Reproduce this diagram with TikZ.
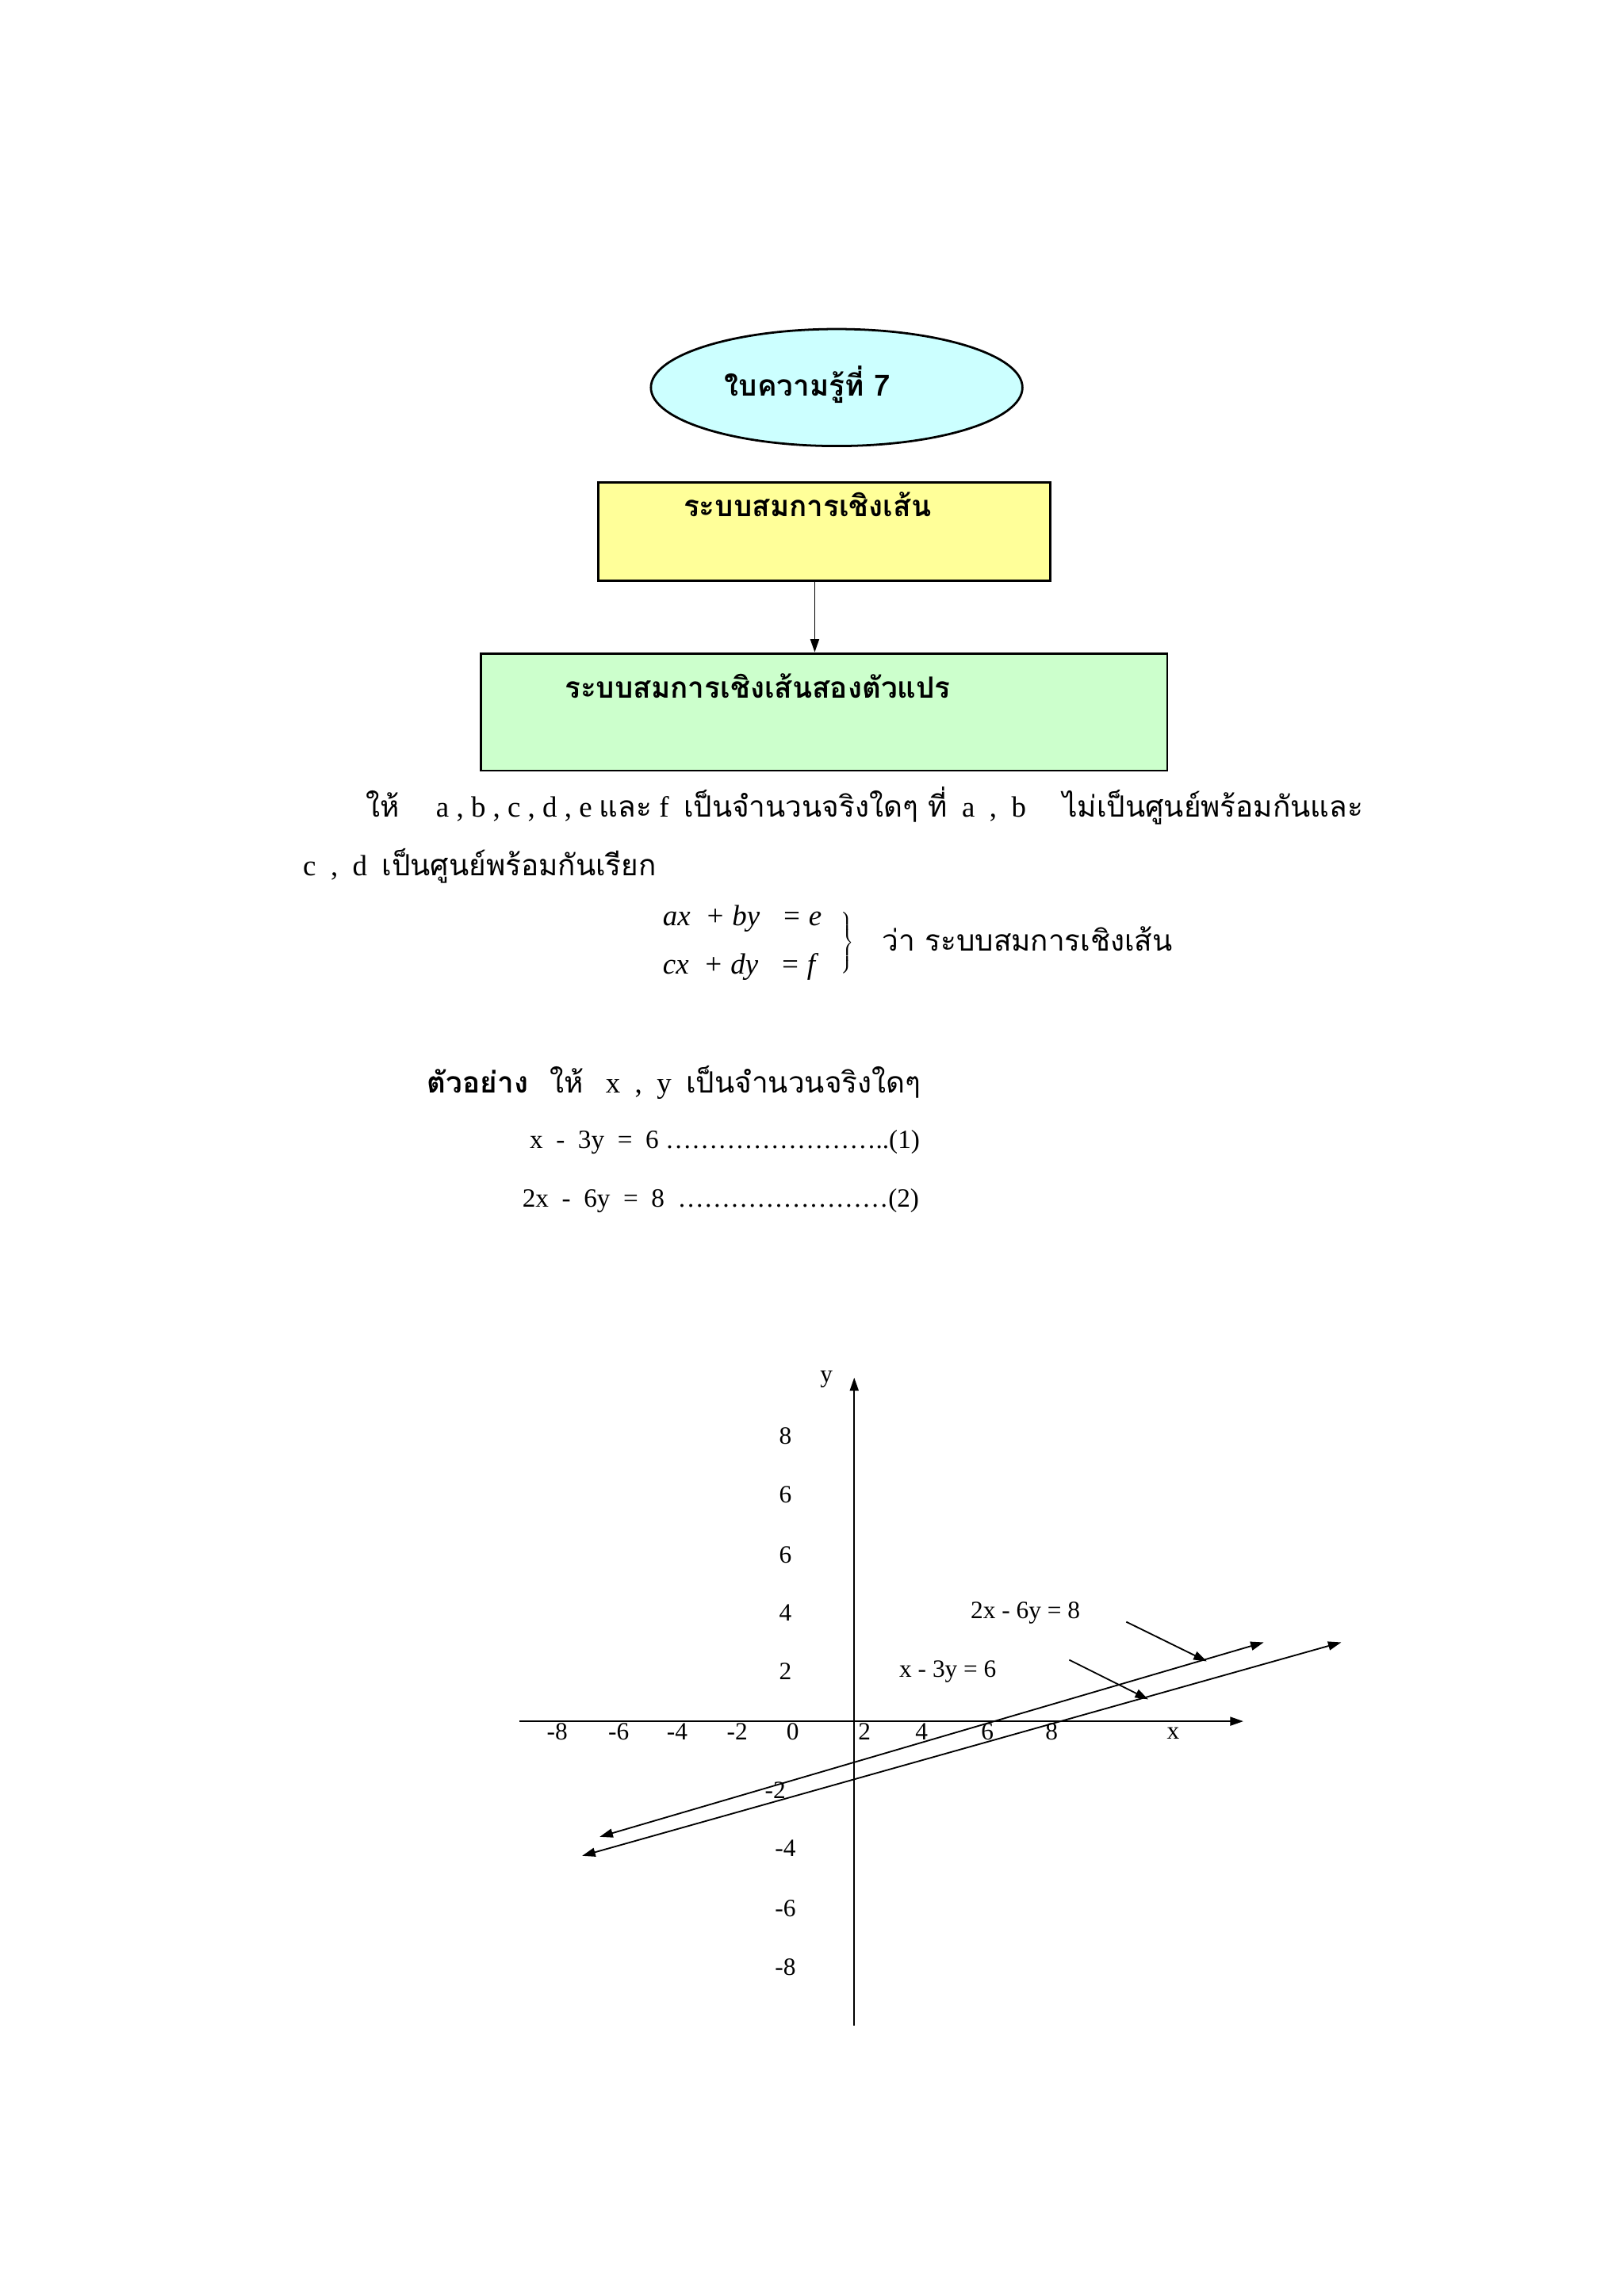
\documentclass[tikz,border=0pt]{standalone}
\usepackage{fontspec}
\setmainfont{Liberation Serif}
\newfontfamily\thai[Script=Thai]{Loma}
\usetikzlibrary{shapes.geometric,arrows.meta}
\definecolor{cyanf}{HTML}{CCFFFF}
\definecolor{yelf}{HTML}{FFFF99}
\definecolor{grnf}{HTML}{CCFFCC}
\begin{document}
\begin{tikzpicture}[x=1pt,y=-1pt,
  txt/.style={anchor=west,inner sep=0pt,font=\fontsize{20}{24}\selectfont},
  num/.style={inner sep=0pt,font=\fontsize{17}{20}\selectfont},
  arr/.style={-{Triangle[length=9pt,width=6pt]},line width=1pt}]
\useasboundingbox (0,0) rectangle (1110,1570);
\node[ellipse,draw,line width=1.5pt,fill=cyanf,minimum width=254,minimum height=80] (e) at (572,265) {};
\node[font=\fontsize{20}{24}\selectfont\thai\bfseries] at (552,263) {ใบความรู้ที่ 7};
\node[draw,line width=1.5pt,fill=yelf,minimum width=309,minimum height=67] (y) at (563.5,363.5) {};
\node[font=\fontsize{20}{24}\selectfont\thai\bfseries] at (552,345) {ระบบสมการเชิงเส้น};
\node[draw,line width=1.5pt,fill=grnf,minimum width=469,minimum height=80] (g) at (563.5,487) {};
\node[font=\fontsize{20}{24}\selectfont\thai\bfseries] at (518,469) {ระบบสมการเชิงเส้นสองตัวแปร};
\draw[arr] (557,397) -- (557,446);
\node[txt] (t1) at (250,551) {{\thai ให้}\quad\ a , b , c , d , e {\thai และ} f\ \ {\thai เป็นจำนวนจริงใดๆ ที่}\ \ a\ \ ,\ \ b\quad\ {\thai ไม่เป็นศูนย์พร้อมกันและ}};
\node[txt] (t2) at (207,592) {c\ \ ,\ \ d\ \ {\thai เป็นศูนย์พร้อมกันเรียก}};
\node[txt] (q1) at (453,628) {\itshape ax\ \ + by\ \ \ = e};
\node[txt] (q2) at (453,661) {\itshape cx\ \ + dy\ \ \ = f};
\node[inner sep=0pt,font=\fontsize{20}{24}\selectfont] (br) at (579,644) {$\left.\vphantom{\rule{0pt}{28pt}}\right\}$};
\node[txt] (t3) at (603,642) {\thai ว่า ระบบสมการเชิงเส้น};
\node[txt] (t4) at (292,740) {{\thai\bfseries ตัวอย่าง}\ \ \ {\thai ให้}\ \ \ x\ \ ,\ \ y\ \ {\thai เป็นจำนวนจริงใดๆ}};
\node[txt,font=\fontsize{18}{22}\selectfont] (t5) at (362,781) {x\ \ -\ \ 3y\ \ =\ \ 6 ……………………..(1)};
\node[txt,font=\fontsize{18}{22}\selectfont] (t6) at (357,821) {2x\ \ -\ \ 6y\ \ =\ \ 8\ \ ……………………(2)};
% graph
\coordinate (xa0) at (355,1177); \coordinate (xa1) at (850,1177);
\coordinate (ya0) at (584,1385); \coordinate (ya1) at (584,942);
\draw[arr] (xa0) -- (xa1);
\draw[arr] (ya0) -- (ya1);
\node[num] at (565,943) {y};
\node[num] at (802,1185) {x};
\foreach \v/\yy in {8/982,6/1022,6/1063,4/1103,2/1143,-4/1264,-6/1305,-8/1345}
  \node[num] at (537,\yy) {\v};
\node[num] at (530,1224) {-2};
\foreach \v/\xx in {-8/381,-6/423,-4/463,-2/504,0/542,2/591,4/630,6/675,8/719}
  \node[num] at (\xx,1184) {\v};
\coordinate (l1a) at (410,1256); \coordinate (l1b) at (864,1123);
\coordinate (l2a) at (398,1269); \coordinate (l2b) at (917,1123);
\draw[{Triangle[length=9pt,width=6pt]}-{Triangle[length=9pt,width=6pt]},line width=1pt] (l1a) -- (l1b);
\draw[{Triangle[length=9pt,width=6pt]}-{Triangle[length=9pt,width=6pt]},line width=1pt] (l2a) -- (l2b);
\node[num] (lab1) at (701,1103) {2x - 6y = 8};
\node[num] (lab2) at (648,1143) {x - 3y = 6};
\coordinate (p1a) at (770,1109); \coordinate (p1b) at (825,1136);
\coordinate (p2a) at (731,1135); \coordinate (p2b) at (785,1162);
\draw[arr] (p1a) -- (p1b);
\draw[arr] (p2a) -- (p2b);
\end{tikzpicture}
\end{document}
